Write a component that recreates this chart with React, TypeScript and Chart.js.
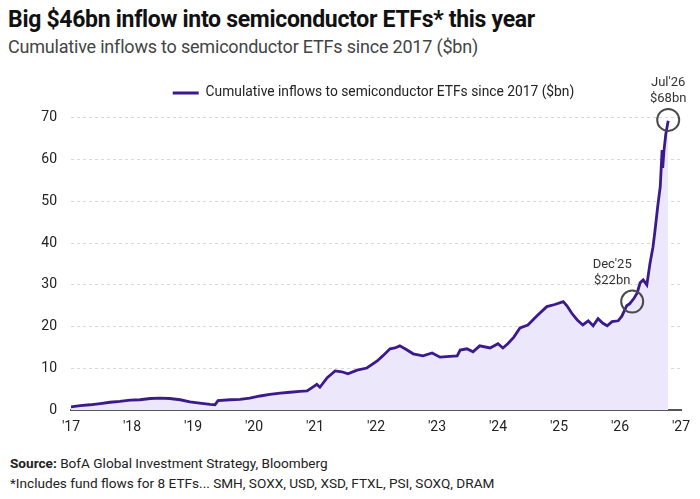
import React, { useEffect, useRef } from "react";
import { Chart, registerables } from "chart.js";

Chart.register(...registerables);

const years: number[] = [
  2017.0, 2017.15, 2017.31, 2017.48, 2017.64, 2017.8, 2017.97, 2018.13, 2018.3, 2018.46,
  2018.62, 2018.79, 2018.95, 2019.11, 2019.28, 2019.36, 2019.41, 2019.61, 2019.77, 2019.93,
  2020.1, 2020.26, 2020.43, 2020.59, 2020.75, 2020.87, 2020.97, 2021.03, 2021.08, 2021.2,
  2021.33, 2021.44, 2021.54, 2021.69, 2021.85, 2022.02, 2022.11, 2022.23, 2022.31, 2022.39,
  2022.49, 2022.61, 2022.77, 2022.92, 2023.05, 2023.21, 2023.33, 2023.38, 2023.49, 2023.59,
  2023.7, 2023.87, 2024.0, 2024.08, 2024.16, 2024.26, 2024.36, 2024.49, 2024.64, 2024.8,
  2024.93, 2025.07, 2025.13, 2025.21, 2025.3, 2025.39, 2025.48, 2025.56, 2025.64, 2025.72,
  2025.79, 2025.87, 2025.97, 2026.03, 2026.11, 2026.16, 2026.23, 2026.28, 2026.33, 2026.38,
  2026.44, 2026.49, 2026.54, 2026.57, 2026.62, 2026.66, 2026.69, 2026.7, 2026.72, 2026.75,
  2026.79,
];

const inflows: number[] = [
  0.8, 1.1, 1.3, 1.6, 1.9, 2.1, 2.4, 2.5, 2.8, 2.9,
  2.8, 2.5, 2.0, 1.7, 1.4, 1.3, 2.3, 2.5, 2.6, 2.9,
  3.4, 3.8, 4.1, 4.3, 4.5, 4.6, 5.6, 6.2, 5.5, 7.8,
  9.4, 9.2, 8.7, 9.6, 10.1, 11.8, 13.0, 14.7, 14.9, 15.4,
  14.6, 13.5, 13.0, 13.7, 12.7, 12.9, 13.0, 14.4, 14.7, 14.0,
  15.4, 14.9, 15.9, 14.9, 15.9, 17.5, 19.7, 20.4, 22.6, 24.8,
  25.3, 26.0, 25.0, 23.2, 21.6, 20.4, 21.4, 20.2, 21.9, 20.8,
  20.2, 21.2, 21.4, 22.5, 25.0, 25.5, 26.8, 28.0, 30.5, 31.2,
  30.0, 35.0, 39.0, 42.5, 49.0, 53.5, 62.3, 58.0, 62.0, 66.0,
  69.3,
];

const yTicks: number[] = [0, 10, 20, 30, 40, 50, 60, 70];
const xTicks: number[] = [2017, 2018, 2019, 2020, 2021, 2022, 2023, 2024, 2025, 2026, 2027];
const xTickLabels: string[] = ["'17", "'18", "'19", "'20", "'21", "'22", "'23", "'24", "'25", "'26", "'27"];

const calloutYears: number[] = [2026.2, 2026.79];
const calloutValues: number[] = [26.0, 69.5];
const calloutLines: string[][] = [["Dec'25", "$22bn"], ["Jul'26", "$68bn"]];

const seriesLabel = "Cumulative inflows to semiconductor ETFs since 2017 ($bn)";
const titleText = "Big $46bn inflow into semiconductor ETFs* this year";
const subtitleText = "Cumulative inflows to semiconductor ETFs since 2017 ($bn)";

const FONT = "Roboto, 'Noto Sans', sans-serif";

export default function App() {
  const ref = useRef<HTMLCanvasElement | null>(null);

  useEffect(() => {
    document.body.style.margin = "0";
    const canvas = ref.current;
    if (!canvas) return;

    const calloutPlugin = {
      id: "callouts",
      afterDatasetsDraw(chart: any) {
        const { ctx, scales } = chart;
        ctx.save();
        calloutYears.forEach((yr, i) => {
          const px = scales.x.getPixelForValue(yr);
          const py = scales.y.getPixelForValue(calloutValues[i]);
          ctx.beginPath();
          ctx.arc(px, py, 11, 0, Math.PI * 2);
          ctx.strokeStyle = "#4a4a4a";
          ctx.lineWidth = 2;
          ctx.stroke();
          ctx.fillStyle = "#333";
          ctx.font = `13px ${FONT}`;
          ctx.textAlign = "center";
          ctx.textBaseline = "middle";
          const dx = i === 0 ? -20 : 0;
          const lines = calloutLines[i];
          ctx.fillText(lines[0], px + dx, py - 37);
          ctx.fillText(lines[1], px + dx, py - 21);
        });
        ctx.restore();
      },
    };

    const legendTweak = {
      id: "legendTweak",
      beforeInit(chart: any) {
        const legend = chart.legend;
        if (!legend) return;
        const orig = legend.fit;
        legend.fit = function () {
          orig.bind(legend)();
          this.height += 8;
        };
      },
      afterLayout(chart: any) {
        const legend = chart.legend;
        if (!legend) return;
        legend.left += 33;
        legend.right += 33;
      },
    };

    const chart = new Chart(canvas, {
      type: "line",
      data: {
        datasets: [
          {
            label: seriesLabel,
            data: years.map((x, i) => ({ x, y: inflows[i] })),
            borderColor: "#3b1a8c",
            backgroundColor: "#ede7fb",
            borderWidth: 2.8,
            fill: "origin",
            pointRadius: 0,
            tension: 0,
          },
        ],
      },
      options: {
        animation: false,
        responsive: false,
        maintainAspectRatio: false,
        layout: { padding: { top: 8, right: 19, left: 0, bottom: 0 } },
        plugins: {
          legend: {
            display: true,
            position: "top",
            labels: {
              boxWidth: 26,
              boxHeight: 3,
              color: "#222",
              font: { family: FONT, size: 13.8 },
              padding: 18,
              generateLabels: (c: any) => [
                {
                  text: seriesLabel,
                  fillStyle: "#3b1a8c",
                  strokeStyle: "#3b1a8c",
                  lineWidth: 0,
                  datasetIndex: 0,
                  hidden: false,
                  fontColor: "#222",
                },
              ],
            },
          },
          tooltip: { enabled: false },
        },
        scales: {
          x: {
            type: "linear",
            min: 2017,
            max: 2027,
            afterBuildTicks: (axis: any) => {
              axis.ticks = xTicks.map((v) => ({ value: v }));
            },
            ticks: {
              color: "#222",
              font: { family: FONT, size: 14 },
              padding: 9,
              callback: (v: any) => {
                const idx = xTicks.indexOf(Number(v));
                return idx >= 0 ? xTickLabels[idx] : "";
              },
            },
            grid: { display: false, drawTicks: false },
            border: { display: true, color: "#555", width: 2 },
          },
          y: {
            min: 0,
            max: 70,
            afterBuildTicks: (axis: any) => {
              axis.ticks = yTicks.map((v) => ({ value: v }));
            },
            afterFit: (axis: any) => {
              axis.width = 71;
            },
            ticks: {
              color: "#222",
              font: { family: FONT, size: 14 },
              padding: 14,
            },
            grid: { color: "#d9d9d9", lineWidth: 1, drawTicks: false },
            border: { display: false, dash: [3, 3] },
          },
        },
      },
      plugins: [calloutPlugin, legendTweak],
    });

    return () => chart.destroy();
  }, []);

  return (
    <div style={{ position: "relative", width: 700, height: 499, background: "#fff", overflow: "hidden" }}>
      <div
        style={{
          position: "absolute",
          left: 8,
          top: 6,
          fontFamily: FONT,
          fontWeight: 700,
          fontSize: 23,
          color: "#111",
          letterSpacing: -0.3,
          whiteSpace: "nowrap",
        }}
      >
        {titleText}
      </div>
      <div
        style={{
          position: "absolute",
          left: 8,
          top: 36,
          fontFamily: FONT,
          fontSize: 18,
          color: "#444",
          letterSpacing: -0.2,
          whiteSpace: "nowrap",
        }}
      >
        {subtitleText}
      </div>
      <canvas ref={ref} width={700} height={385} style={{ position: "absolute", left: 0, top: 60 }} />
      <div
        style={{
          position: "absolute",
          left: 10,
          top: 455,
          fontFamily: FONT,
          fontSize: 13.6,
          color: "#222",
          whiteSpace: "nowrap",
        }}
      >
        <b>Source:</b> BofA Global Investment Strategy, Bloomberg
      </div>
      <div
        style={{
          position: "absolute",
          left: 10,
          top: 475,
          fontFamily: FONT,
          fontSize: 13.6,
          color: "#222",
          whiteSpace: "nowrap",
        }}
      >
        *Includes fund flows for 8 ETFs... SMH, SOXX, USD, XSD, FTXL, PSI, SOXQ, DRAM
      </div>
    </div>
  );
}
